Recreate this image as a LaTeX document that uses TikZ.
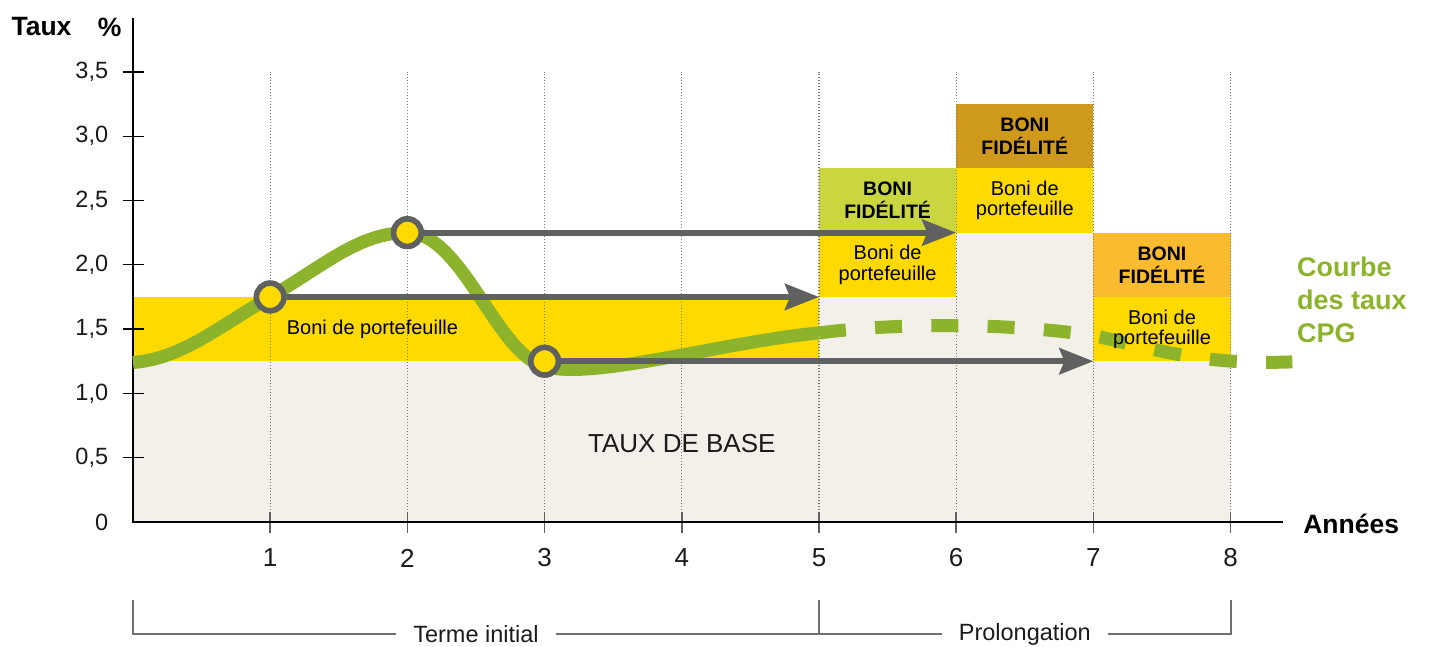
\documentclass[tikz,border=0pt]{standalone}
\usepackage{fontspec}
\setmainfont{Liberation Sans}
\usetikzlibrary{arrows.meta}
\definecolor{beige}{HTML}{F3F0E9}
\definecolor{jaune}{HTML}{FFDA00}
\definecolor{vertclair}{HTML}{C9D640}
\definecolor{orfonce}{HTML}{CF9A1B}
\definecolor{orange}{HTML}{FBBB2F}
\definecolor{vertcourbe}{HTML}{8DB32C}
\definecolor{grisfleche}{HTML}{5F6161}
\definecolor{grisbrk}{HTML}{707070}
\definecolor{grisgrid}{HTML}{7A7A7A}
\definecolor{texte}{HTML}{1A1A1A}
\begin{document}
\begin{tikzpicture}[x=137.2pt,y=128.6pt,
  gridline/.style={grisgrid,line width=1.1pt,dash pattern=on 1.2pt off 1.8pt},
  axisline/.style={black,line width=2.2pt},
  xtickline/.style={grisfleche,line width=1.6pt},
  ytickline/.style={black,line width=1.3pt},
  ylab/.style={anchor=east,inner sep=0pt,text=texte,font=\fontsize{23.5}{27}\selectfont},
  xlab/.style={inner sep=0pt,text=texte,font=\fontsize{26}{30}\selectfont},
  boldlab/.style={inner sep=0pt,text=black,font=\bfseries\fontsize{26.5}{30}\selectfont},
  fidel/.style={align=center,inner sep=0pt,text=black,font=\bfseries\fontsize{19.5}{23}\selectfont},
  portef/.style={align=center,inner sep=0pt,text=black,font=\fontsize{20}{20.5}\selectfont},
  courbe/.style={vertcourbe,line width=13pt},
  fleche/.style={grisfleche,line width=6pt,-{Stealth[length=34pt,width=26pt,inset=5pt]}},
  dot/.style={circle,draw=grisfleche,fill=jaune,line width=5.5pt,minimum size=27.5pt,inner sep=0pt},
  brk/.style={inner xsep=17pt,inner ysep=0pt,text=texte,font=\fontsize{23.5}{27}\selectfont},
  bracketline/.style={grisbrk,line width=2pt}]
\useasboundingbox (-0.9694,-0.972) rectangle (9.446,4.059);
% background areas
\fill[beige] (0,0) rectangle (5,1.25);
\fill[beige] (5,0) rectangle (6,1.75);
\fill[beige] (6,0) rectangle (7,2.25);
\fill[beige] (7,0) rectangle (8,1.25);
\fill[jaune] (0,1.25) rectangle (5,1.75);
\fill[jaune] (5,1.75) rectangle (6,2.25);
\fill[vertclair] (5,2.25) rectangle (6,2.75);
\fill[jaune] (6,2.25) rectangle (7,2.75);
\fill[orfonce] (6,2.75) rectangle (7,3.25);
\fill[jaune] (7,1.25) rectangle (8,1.75);
\fill[orange] (7,1.75) rectangle (8,2.25);
% grid
\foreach \i in {1,...,8}{
  \draw[gridline] (\i,0) -- (\i,3.5);
  \draw[xtickline] (\i,-0.086) -- (\i,0.078);
  \node[xlab] (xl\i) at (\i,-0.28) {\i};
}
% axes
\coordinate (O) at (0,0);
\coordinate (ytop) at (0,3.919);
\coordinate (xend) at (8.382,0);
\draw[axisline] (ytop) -- (O) -- (xend);
\foreach \v/\t [count=\k] in {0/0,0.5/{0,5},1/{1,0},1.5/{1,5},2/{2,0},2.5/{2,5},3/{3,0},3.5/{3,5}}{
  \node[ylab] (yl\k) at (-0.18,\v) {\t};
}
\foreach \v in {0.5,1,1.5,2,2.5,3,3.5}{
  \draw[ytickline] (-0.073,\v) -- (0.080,\v);
}
\node[boldlab] (taux) at (-0.667,3.849) {Taux};
\node[boldlab] (pct) at (-0.171,3.849) {\%};
\node[boldlab,anchor=west] (annees) at (8.528,-0.016) {Années};
% texts in areas
\node[inner sep=0pt,text=texte,font=\fontsize{26}{30}\selectfont] (base) at (4.0,0.61) {TAUX DE BASE};
\node[portef,anchor=west] (bp0) at (1.12,1.5) {Boni de portefeuille};
% curve
\draw[courbe] (0,1.24) .. controls (0.35,1.27) and (0.6,1.5) .. (1,1.75)
  .. controls (1.4,2.0) and (1.65,2.25) .. (2,2.25)
  .. controls (2.4,2.25) and (2.65,1.3) .. (3,1.21)
  .. controls (3.35,1.1) and (4.3,1.40) .. (5,1.47);
\draw[courbe,dash pattern=on 27pt off 29.3pt] (5,1.47) .. controls (5.5,1.54) and (6.3,1.56) .. (7,1.45)
  .. controls (7.5,1.33) and (7.8,1.22) .. (8.45,1.245);
% box texts
\node[fidel] (f1) at (5.5,2.5) {BONI\\FIDÉLITÉ};
\node[portef] (p1) at (5.5,2.0) {Boni de\\portefeuille};
\node[fidel] (f2) at (6.5,3.0) {BONI\\FIDÉLITÉ};
\node[portef] (p2) at (6.5,2.5) {Boni de\\portefeuille};
\node[fidel] (f3) at (7.5,2.0) {BONI\\FIDÉLITÉ};
\node[portef] (p3) at (7.5,1.5) {Boni de\\portefeuille};
% arrows
\node[dot] (c1) at (1,1.75) {};
\node[dot] (c2) at (2,2.25) {};
\node[dot] (c3) at (3,1.25) {};
\coordinate (t1) at (5,1.75);
\coordinate (t2) at (6,2.25);
\coordinate (t3) at (7,1.25);
\draw[fleche] (c1) -- (t1);
\draw[fleche] (c2) -- (t2);
\draw[fleche] (c3) -- (t3);
\node[dot] at (c1) {};
\node[dot] at (c2) {};
\node[dot] at (c3) {};
% legend
\node[anchor=west,align=left,inner sep=0pt,text=vertcourbe,font=\bfseries\fontsize{27}{33}\selectfont] (leg) at (8.484,1.726) {Courbe\\des taux\\CPG};
% brackets
\coordinate (bl) at (0,-0.607);
\coordinate (bm) at (5,-0.607);
\coordinate (br) at (8,-0.607);
\node[brk] (terme) at (2.5,-0.871) {Terme initial};
\node[brk] (prol) at (6.5,-0.871) {Prolongation};
\draw[bracketline] (bl) |- (terme.west);
\draw[bracketline] (bm) |- (terme.east);
\draw[bracketline] (bm) |- (prol.west);
\draw[bracketline] (br) |- (prol.east);
\end{tikzpicture}
\end{document}
